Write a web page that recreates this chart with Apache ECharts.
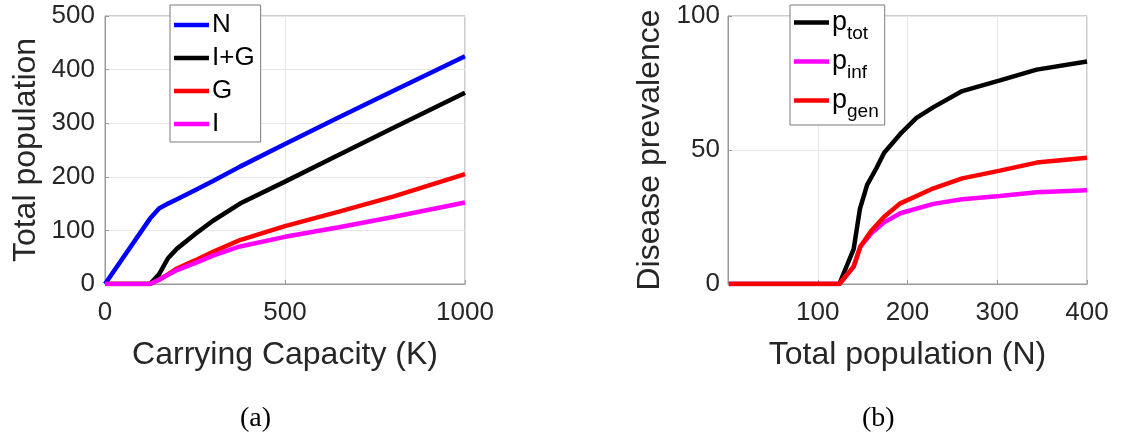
<!DOCTYPE html>
<html>
<head>
<meta charset="utf-8">
<script src="https://cdn.jsdelivr.net/npm/echarts@6/dist/echarts.min.js"></script>
<style>
html,body{margin:0;padding:0;background:#fff;}
#chart{width:1125px;height:446px;}
</style>
</head>
<body>
<div id="chart"></div>
<script>
// ---- Panel (a): population vs carrying capacity ----
const capacityK = [0, 125, 150, 175, 200, 250, 300, 375, 500, 650, 800, 1000];
const popN      = [0, 122, 141, 150, 158, 175, 192, 219, 261, 311, 360, 425];
const popIG     = [0, 0, 18, 48, 66, 93, 118, 150, 191, 241, 291, 357];
const popG      = [0, 0, 8, 18, 29, 44, 60, 82, 108, 135, 163, 205];
const popI      = [0, 0, 8, 17, 26, 39, 53, 70, 88, 106, 125, 152];
const namesA    = ['N', 'I+G', 'G', 'I'];

// ---- Panel (b): prevalence vs total population ----
const totN_tot  = [1, 124, 140, 147, 155, 165, 174, 192, 210, 229, 261, 303, 344, 400];
const pTot      = [0, 0, 13, 28, 37, 43, 49, 56, 62, 66, 72, 76, 80, 83];
const totN_sub  = [1, 124, 140, 147.5, 160, 174, 192, 229, 261, 303, 344, 400];
const pInf      = [0, 0, 6.5, 14, 19, 23, 26.4, 29.9, 31.6, 32.8, 34.2, 35];
const pGen      = [0, 0, 6.5, 14, 20, 25.1, 30.1, 35.7, 39.4, 42.3, 45.3, 47.1];
const namesB    = ['p_tot', 'p_inf', 'p_gen'];
const subB      = {p_tot: 'tot', p_inf: 'inf', p_gen: 'gen'};

const xTicksA = [0, 500, 1000];
const yTicksA = [0, 100, 200, 300, 400, 500];
const xTicksB = [100, 200, 300, 400];
const yTicksB = [0, 50, 100];

const FONT = 'Liberation Sans, Arial, sans-serif';
const zip = (xs, ys) => xs.map((x, i) => [x, ys[i]]);

function axisCommon() {
  return {
    axisLine: {show: true, lineStyle: {color: '#9a9a9a', width: 1}},
    axisTick: {show: true, inside: true, length: 4, lineStyle: {color: '#9a9a9a'}},
    splitLine: {show: true, lineStyle: {color: '#e6e6e6', width: 1}},
    axisLabel: {color: '#262626', fontSize: 26, fontFamily: FONT, formatter: v => String(v)},
    nameTextStyle: {color: '#262626', fontSize: 32, fontFamily: FONT},
    nameLocation: 'middle'
  };
}

const chart = echarts.init(document.getElementById('chart'), null, {renderer: 'canvas'});

const lineSeries = (name, data, color, xi) => ({
  name, type: 'line', data, xAxisIndex: xi, yAxisIndex: xi,
  showSymbol: false, symbol: 'none', smooth: false,
  lineStyle: {color, width: 4.5}, itemStyle: {color}, animation: false
});

const option = {
  animation: false,
  backgroundColor: '#ffffff',
  grid: [
    {left: 105, top: 16, width: 360, height: 268, show: true, borderColor: '#9a9a9a', borderWidth: 1},
    {left: 728, top: 16, width: 359, height: 268, show: true, borderColor: '#9a9a9a', borderWidth: 1}
  ],
  xAxis: [
    Object.assign(axisCommon(), {
      type: 'value', gridIndex: 0, min: 0, max: 1000, interval: 500,
      name: 'Carrying Capacity (K)', nameGap: 55,
      axisLabel: Object.assign(axisCommon().axisLabel, {margin: 16})
    }),
    Object.assign(axisCommon(), {
      type: 'value', gridIndex: 1, min: 0, max: 400, interval: 100,
      name: 'Total population (N)', nameGap: 55,
      axisLabel: Object.assign(axisCommon().axisLabel, {margin: 16, showMinLabel: false})
    })
  ],
  yAxis: [
    Object.assign(axisCommon(), {
      type: 'value', gridIndex: 0, min: 0, max: 500, interval: 100,
      name: 'Total population', nameGap: 63,
      axisLabel: Object.assign(axisCommon().axisLabel, {margin: 10})
    }),
    Object.assign(axisCommon(), {
      type: 'value', gridIndex: 1, min: 0, max: 100, interval: 50,
      name: 'Disease prevalence', nameGap: 62,
      axisLabel: Object.assign(axisCommon().axisLabel, {margin: 8})
    })
  ],
  legend: [
    {
      data: namesA, orient: 'vertical', left: 170, top: 5,
      icon: 'rect', itemWidth: 35, itemHeight: 4.5, itemGap: 7,
      padding: [7, 6, 5, 4], borderColor: '#7a7a7a', borderWidth: 1,
      backgroundColor: '#ffffff', selectedMode: false,
      textStyle: {fontSize: 26, color: '#000', fontFamily: FONT, padding: [0, 0, 0, -2]}
    },
    {
      data: namesB, orient: 'vertical', left: 790, top: 5,
      icon: 'rect', itemWidth: 35, itemHeight: 4.5, itemGap: 5,
      padding: [4, 6, 4, 4], borderColor: '#7a7a7a', borderWidth: 1,
      backgroundColor: '#ffffff', selectedMode: false,
      formatter: n => '{p|p}{s|' + subB[n] + '}',
      textStyle: {
        fontSize: 26, color: '#000', fontFamily: FONT, padding: [0, 0, 0, -2],
        rich: {
          p: {fontSize: 27, fontFamily: FONT, color: '#000', padding: [0, 0, 0, 0]},
          s: {fontSize: 19, fontFamily: FONT, color: '#000', padding: [22, 0, 0, 0]}
        }
      }
    }
  ],
  graphic: [
    {type: 'text', left: 240, top: 405, style: {text: '(a)', font: '28px "Liberation Serif", serif', fill: '#000'}},
    {type: 'text', left: 862, top: 405, style: {text: '(b)', font: '28px "Liberation Serif", serif', fill: '#000'}}
  ],
  series: [
    lineSeries('N', zip(capacityK, popN), '#0000ff', 0),
    lineSeries('I+G', zip(capacityK, popIG), '#000000', 0),
    lineSeries('G', zip(capacityK, popG), '#ff0000', 0),
    lineSeries('I', zip(capacityK, popI), '#ff00ff', 0),
    lineSeries('p_tot', zip(totN_tot, pTot), '#000000', 1),
    lineSeries('p_inf', zip(totN_sub, pInf), '#ff00ff', 1),
    lineSeries('p_gen', zip(totN_sub, pGen), '#ff0000', 1)
  ]
};
chart.setOption(option);
</script>
</body>
</html>
